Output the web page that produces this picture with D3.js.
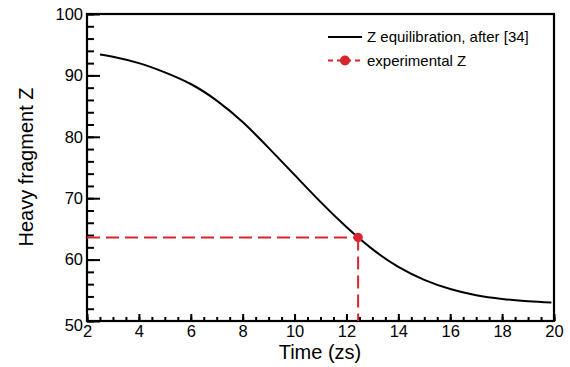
<!DOCTYPE html>
<html>
<head>
<meta charset="utf-8">
<script src="https://cdn.jsdelivr.net/npm/d3@7"></script>
<style>
  html, body { margin: 0; padding: 0; background: #fff; }
  svg { display: block; }
  text { font-family: "Liberation Sans", Arial, Helvetica, sans-serif; fill: #000; }
</style>
</head>
<body>
<svg id="chart" width="570" height="367"></svg>
<script>
// ---- data ----
const timeValues = [2.5, 3, 4, 5, 6, 7, 8, 9, 10, 11, 12, 13, 14, 15, 16, 17, 18, 19, 19.9];
const zValues    = [93.4, 93.05, 92.0, 90.5, 88.6, 85.9, 82.4, 78.2, 73.8, 69.4, 65.3, 61.7, 58.8, 56.7, 55.2, 54.2, 53.6, 53.2, 53.0];
const expTime = [12.45];
const expZ = [63.6];
const xTicks = [2, 4, 6, 8, 10, 12, 14, 16, 18, 20];
const xMinorTicks = d3.range(2, 20.01, 0.5);
const yTicks = [50, 60, 70, 80, 90, 100];
const yMinorTicks = d3.range(50, 100.01, 2);
const legendLabels = ["Z equilibration, after [34]", "experimental Z"];
const xLabel = "Time (zs)";
const yLabel = "Heavy fragment Z";

// ---- layout ----
const svg = d3.select("#chart");
const L = 87, R = 554, T = 14, B = 321;
const red = "#d8262e";
const x = d3.scaleLinear().domain([2, 20]).range([L, R]);
const y = d3.scaleLinear().domain([50, 100]).range([B, T]);

// minor ticks
svg.append("g").attr("transform", `translate(${L},0)`)
  .call(d3.axisLeft(y).tickValues(yMinorTicks).tickSize(-7).tickFormat(""))
  .call(g => g.select(".domain").remove())
  .call(g => g.selectAll("line").attr("stroke-width", 2));
svg.append("g").attr("transform", `translate(0,${B})`)
  .call(d3.axisBottom(x).tickValues(xMinorTicks).tickSize(-4).tickFormat(""))
  .call(g => g.select(".domain").remove())
  .call(g => g.selectAll("line").attr("stroke-width", 2));

// major ticks
const yAx = svg.append("g").attr("transform", `translate(${L},0)`)
  .call(d3.axisLeft(y).tickValues(yTicks).tickSize(-13).tickPadding(4).tickFormat(d3.format("d")))
  .call(g => g.select(".domain").remove())
  .call(g => g.selectAll("line").attr("stroke-width", 2))
  .call(g => g.selectAll("text").attr("font-size", 16.5).attr("font-family", "Liberation Sans, Arial, sans-serif"));
yAx.selectAll(".tick").filter(d => d === 50).select("text").attr("dy", "0.55em");

svg.append("g").attr("transform", `translate(0,${B})`)
  .call(d3.axisBottom(x).tickValues(xTicks).tickSize(-7).tickPadding(4).tickFormat(d3.format("d")))
  .call(g => g.select(".domain").remove())
  .call(g => g.selectAll("line").attr("stroke-width", 2))
  .call(g => g.selectAll("text").attr("font-size", 16.5).attr("font-family", "Liberation Sans, Arial, sans-serif"));

// frame
svg.append("rect").attr("x", L).attr("y", T).attr("width", R - L).attr("height", B - T)
  .attr("fill", "none").attr("stroke", "#000").attr("stroke-width", 2.2);

// curve
const line = d3.line().x((d, i) => x(timeValues[i])).y(d => y(d)).curve(d3.curveNatural);
svg.append("path").datum(zValues).attr("d", line)
  .attr("fill", "none").attr("stroke", "#000").attr("stroke-width", 2);

// experimental point with dashed guides
expTime.forEach((t, i) => {
  const px = x(t), py = y(expZ[i]);
  svg.append("line").attr("x1", x(2)).attr("x2", px).attr("y1", py).attr("y2", py)
    .attr("stroke", red).attr("stroke-width", 2).attr("stroke-dasharray", "13,6");
  svg.append("line").attr("x1", px).attr("x2", px).attr("y1", py).attr("y2", y(50))
    .attr("stroke", red).attr("stroke-width", 2).attr("stroke-dasharray", "13,6");
  svg.append("circle").attr("cx", px).attr("cy", py).attr("r", 4.7).attr("fill", red);
});

// legend
const lg = svg.append("g");
lg.append("line").attr("x1", 328).attr("x2", 362).attr("y1", 37).attr("y2", 37)
  .attr("stroke", "#000").attr("stroke-width", 2);
lg.append("text").attr("x", 367).attr("y", 42).attr("font-size", 15).text(legendLabels[0]);
lg.append("line").attr("x1", 328).attr("x2", 362).attr("y1", 60.5).attr("y2", 60.5)
  .attr("stroke", red).attr("stroke-width", 2).attr("stroke-dasharray", "5,4");
lg.append("circle").attr("cx", 345).attr("cy", 60.5).attr("r", 5).attr("fill", red);
lg.append("text").attr("x", 367).attr("y", 65.5).attr("font-size", 15).text(legendLabels[1]);

// axis titles
svg.append("text").attr("x", 320).attr("y", 359).attr("text-anchor", "middle")
  .attr("font-size", 20).text(xLabel);
svg.append("text").attr("transform", "translate(33,167) rotate(-90)")
  .attr("text-anchor", "middle").attr("font-size", 20).text(yLabel);
</script>
</body>
</html>
